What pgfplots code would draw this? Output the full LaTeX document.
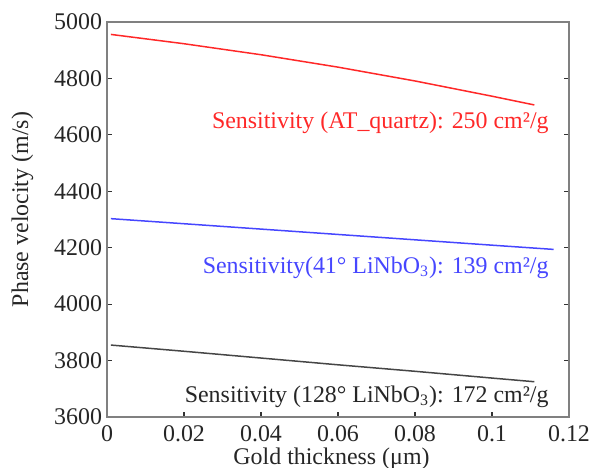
\documentclass[border=0pt]{standalone}
\usepackage{fontspec}
\setmainfont{Liberation Serif}
\usepackage{pgfplots}
\pgfplotsset{compat=1.18}

\definecolor{redline}{RGB}{255,40,40}
\definecolor{blueline}{RGB}{70,70,255}
\definecolor{grayline}{RGB}{70,70,70}
\definecolor{axisgray}{RGB}{128,128,128}
\newcommand{\figfont}{\fontspec{Liberation Serif}\fontsize{12}{14}\selectfont}

\begin{document}
\begin{tikzpicture}
% page frame matching the 592x468 reference (axis box at its lower left)
\useasboundingbox (-53.5bp,-25.5bp) rectangle (242.5bp,208.5bp);
\begin{axis}[
  at={(0,0)}, anchor=south west,
  scale only axis,
  width=231bp, height=197.5bp,
  xmin=0, xmax=0.12,
  ymin=3600, ymax=5000,
  xtick={0,0.02,0.04,0.06,0.08,0.1,0.12},
  xticklabels={0,0.02,0.04,0.06,0.08,0.1,0.12},
  ytick={3600,3800,4000,4200,4400,4600,4800,5000},
  yticklabels={3600,3800,4000,4200,4400,4600,4800,5000},
  xtick pos=bottom,
  ytick pos=both,
  tick align=inside,
  major tick length=2.5bp,
  axis line style={axisgray, line width=1bp},
  tick style={black!80, line width=0.6bp},
  every tick label/.append style={font=\figfont, text=black!85},
  xticklabel style={yshift=-1bp},
  yticklabel style={xshift=1bp},
  every axis x label/.style={at={(axis description cs:0.486,-0.119)}, anchor=base, font=\figfont, text=black!85},
  every axis y label/.style={at={(axis description cs:-0.183,0.525)}, rotate=90, anchor=center, font=\figfont, text=black!85},
  xlabel={Gold thickness (μm)},
  ylabel={Phase velocity (m/s)},
  clip=false,
]
% AT quartz
\addplot[redline, line width=0.75bp] coordinates {
  (0.001,4956) (0.02,4923) (0.04,4884) (0.06,4840)
  (0.08,4791) (0.1,4737) (0.111,4706)
};
% 41 deg LiNbO3
\addplot[blueline, line width=0.75bp] coordinates {
  (0.001,4303) (0.02,4285) (0.04,4266) (0.06,4247)
  (0.08,4228) (0.1,4209) (0.116,4194)
};
% 128 deg LiNbO3
\addplot[grayline, line width=0.75bp] coordinates {
  (0.001,3855) (0.02,3833) (0.04,3809) (0.06,3785)
  (0.08,3762) (0.1,3738) (0.111,3725)
};

\node[anchor=base east, font=\figfont, text=redline, inner sep=0pt]
  at (axis cs:0.1148,4624) {Sensitivity (AT\_quartz): 250 cm²/g};
\node[anchor=base east, font=\figfont, text=blueline, inner sep=0pt]
  at (axis cs:0.1148,4110) {Sensitivity(41° LiNbO\textsubscript{3}): 139 cm²/g};
\node[anchor=base east, font=\figfont, text=black!85, inner sep=0pt]
  at (axis cs:0.1148,3653) {Sensitivity (128° LiNbO\textsubscript{3}): 172 cm²/g};
\end{axis}
\end{tikzpicture}
\end{document}
